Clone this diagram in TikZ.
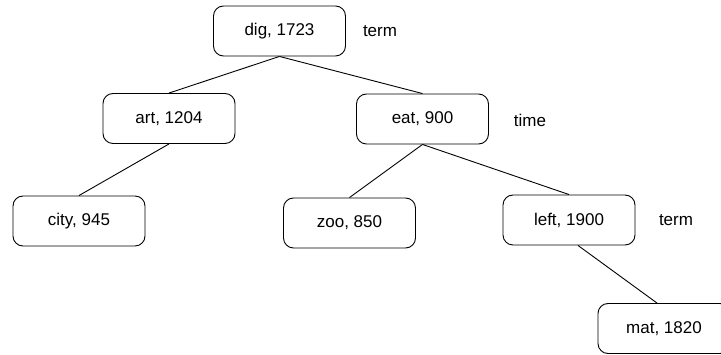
\documentclass[tikz,border=0pt]{standalone}
\usepackage{fontspec}
\setmainfont{Liberation Sans}

\begin{document}
\begin{tikzpicture}[x=1pt,y=-1pt]
        % Define styles
        \tikzset{
            key/.style={rectangle, rounded corners=10pt, draw, line width=0.9pt, minimum width=132pt, minimum height=50pt, font=\fontsize{17}{20}\selectfont},
            note/.style={font=\fontsize{17}{20}\selectfont},
            edge/.style={line width=0.9pt}
        }
        \useasboundingbox (0,0) rectangle (721,355);
        \clip (0,0) rectangle (721,355);

        % Nodes
        \node[key] (dig_node) at (279.5,31) {dig, 1723};
        \node[note] (dig_label) at (380,31) {term};
        \node[key] (art_node) at (169,118.5) {art, 1204};
        \node[key] (eat_node) at (422.5,119) {eat, 900};
        \node[note] (eat_label) at (530,120) {time};
        \node[key] (city_node) at (79,221) {city, 945};
        \node[key] (zoo_node) at (349.5,223) {zoo, 850};
        \node[key] (left_node) at (569,220) {left, 1900};
        \node[note] (left_label) at (676,220) {term};
        \node[key] (mat_node) at (664,328.5) {mat, 1820};

        % Lines
        \draw[edge] (dig_node.south) -- (art_node.north);
        \draw[edge] (dig_node.south) -- (eat_node.north);
        \draw[edge] (art_node.south) -- (city_node.north);
        \draw[edge] (eat_node.south) -- (zoo_node.north);
        \draw[edge] (eat_node.south) -- (left_node.north);
        \draw[edge] ([xshift=9pt]left_node.south) -- ([xshift=-7pt]mat_node.north);
    \end{tikzpicture}
\end{document}
